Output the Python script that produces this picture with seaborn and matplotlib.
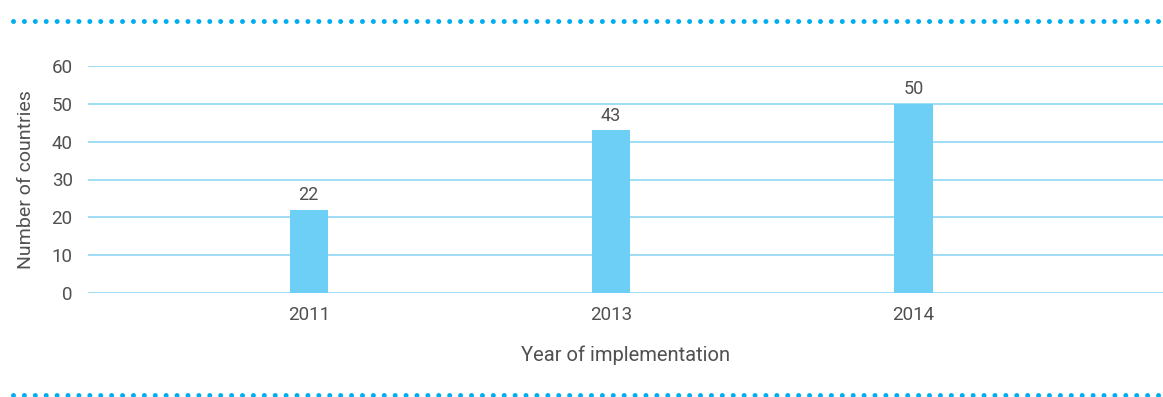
import matplotlib
matplotlib.use("Agg")
import matplotlib.pyplot as plt
from matplotlib.lines import Line2D
import seaborn as sns
import pandas as pd

years = ["2011", "2013", "2014"]
countries = [22, 43, 50]
y_ticks = [0, 10, 20, 30, 40, 50, 60]

bar_color = "#6dcff6"
grid_color = "#8fd8f5"
dot_color = "#00aeef"
text_color = "#505050"

sns.set_theme(style="white")
plt.rcParams["font.family"] = ["Roboto", "DejaVu Sans"]

df = pd.DataFrame({"year": years, "countries": countries})

W, H = 1163, 397
fig = plt.figure(figsize=(W / 100, H / 100), dpi=100)
ax = fig.add_axes([88 / W, 1 - 293 / H, (1163 - 88) / W, (293 - 66) / H])

sns.barplot(data=df, x="year", y="countries", color=bar_color,
            width=0.126, saturation=1, linewidth=0, ax=ax, zorder=3)

ax.set_ylim(0, 60)
ax.set_yticks(y_ticks)
ax.set_xlim(-0.73, 2.825)
ax.grid(axis="y", color=grid_color, linewidth=1.2, zorder=0)
for s in ax.spines.values():
    s.set_visible(False)
ax.tick_params(axis="both", length=0, labelsize=13.5, labelcolor=text_color)
ax.tick_params(axis="x", pad=9)
ax.tick_params(axis="y", pad=11)

for i, v in enumerate(countries):
    ax.annotate(str(v), (i, v), xytext=(0, 4), textcoords="offset points",
                ha="center", va="bottom", fontsize=13, color=text_color)

ax.set_xlabel("Year of implementation", fontsize=14.5, color=text_color, labelpad=16)
ax.set_ylabel("Number of countries", fontsize=14, color=text_color, labelpad=12)

# dotted rules above and below the chart
for ypix in (20.7, 395.0):
    yf = 1 - ypix / H
    fig.add_artist(Line2D([13 / W, 1163 / W], [yf, yf], transform=fig.transFigure,
                          color=dot_color, linewidth=3.6,
                          linestyle=(0, (0.001, 2.18)), dash_capstyle="round"))

fig.savefig("out.png", dpi=100)
